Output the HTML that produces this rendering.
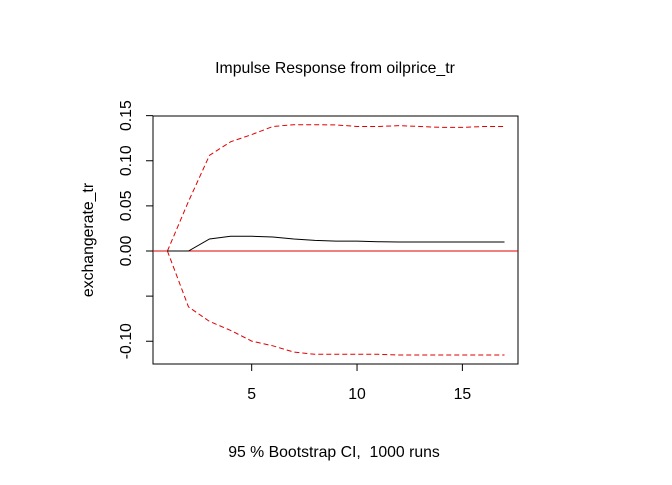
<!DOCTYPE html>
<html><head><meta charset="utf-8"><style>
html,body{margin:0;padding:0;background:#fff;}
svg text{font-family:"Liberation Sans",Arial,sans-serif;fill:#000;}
</style></head><body>
<svg id="chart" width="672" height="480" viewBox="0 0 672 480" xmlns="http://www.w3.org/2000/svg">
<text x="335" y="73" font-size="15.8" text-anchor="middle">Impulse Response from oilprice_tr</text>
<text x="334" y="457" font-size="15.8" text-anchor="middle">95 % Bootstrap CI,&#160; 1000 runs</text>
<text transform="translate(93,240) rotate(-90)" font-size="15.8" text-anchor="middle">exchangerate_tr</text>
<rect x="153" y="116" width="365" height="248" fill="none" stroke="#000" stroke-width="1"/>
<g id="axes"></g>
<g id="series"></g>
</svg>
<script>
const steps = [1,2,3,4,5,6,7,8,9,10,11,12,13,14,15,16,17];
const irfValues = [0,0,0.0133,0.0163,0.0163,0.0155,0.0133,0.0118,0.011,0.011,0.0103,0.010,0.010,0.010,0.010,0.010,0.010];
const upperValues = [0,0.055,0.106,0.121,0.129,0.138,0.140,0.140,0.1397,0.138,0.138,0.139,0.138,0.137,0.137,0.138,0.138];
const lowerValues = [0,-0.062,-0.078,-0.088,-0.0998,-0.105,-0.112,-0.1145,-0.1145,-0.1145,-0.1145,-0.1153,-0.1153,-0.1153,-0.1153,-0.1153,-0.1153];
const xTicks = [5,10,15];
const yTicks = [-0.10,-0.05,0.00,0.05,0.10,0.15];
const yTickLabels = ["-0.10","","0.00","0.05","0.10","0.15"];

const NS="http://www.w3.org/2000/svg";
function xs(v){return 167.4+(v-1)*21.07;}
function ys(v){return 251-v*902.4;}
const axes=document.getElementById('axes');
const series=document.getElementById('series');
function mk(tag,attrs,parent){const e=document.createElementNS(NS,tag);for(const k in attrs)e.setAttribute(k,attrs[k]);parent.appendChild(e);return e;}

xTicks.forEach(t=>{
  const l=mk('line',{x1:xs(t),x2:xs(t),y1:364,y2:371,stroke:'#000'},axes);
  
  
  const tx=mk('text',{x:xs(t),y:399,'font-size':15.8,'text-anchor':'middle'},axes);
  tx.textContent=t;
  
  
});
yTicks.forEach((t,i)=>{
  const l=mk('line',{x1:146,x2:153,y1:ys(t),y2:ys(t),stroke:'#000'},axes);
  
  
  if(yTickLabels[i]){
    const tx=mk('text',{transform:`translate(131,${ys(t)}) rotate(-90)`,'font-size':15.8,'text-anchor':'middle'},axes);
    tx.textContent=yTickLabels[i];
    
    
  }
});
const zero=mk('line',{x1:153,x2:518,y1:ys(0),y2:ys(0),stroke:'#e00000','stroke-width':1},series);


function pts(vals){return steps.map((s,i)=>xs(s).toFixed(1)+','+ys(vals[i]).toFixed(1)).join(' ');}
const up=mk('polyline',{points:pts(upperValues),fill:'none',stroke:'#e00000','stroke-dasharray':'5,3','stroke-width':1},series);


const lo=mk('polyline',{points:pts(lowerValues),fill:'none',stroke:'#e00000','stroke-dasharray':'5,3','stroke-width':1},series);


const irf=mk('polyline',{points:pts(irfValues),fill:'none',stroke:'#000','stroke-width':1},series);


</script>
</body></html>
